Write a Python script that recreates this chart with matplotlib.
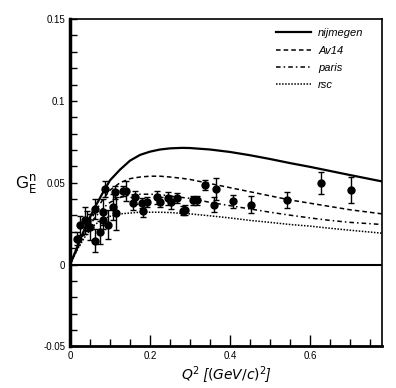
import matplotlib
matplotlib.use("Agg")
import matplotlib.pyplot as plt
from matplotlib.ticker import MultipleLocator

plt.rcParams['font.family'] = ['Liberation Sans', 'DejaVu Sans']

# data points
q2_data = [0.018, 0.025, 0.0375, 0.043, 0.05, 0.0625, 0.0625, 0.075, 0.083, 0.083,
           0.0875, 0.096, 0.107, 0.1125, 0.115, 0.133, 0.14, 0.157, 0.1625, 0.179,
           0.183, 0.192, 0.217, 0.225, 0.246, 0.252, 0.268, 0.282, 0.2875, 0.308,
           0.317, 0.3375, 0.36, 0.365, 0.407, 0.4525, 0.543, 0.627, 0.7025]
gen_data = [0.0157, 0.0239, 0.027, 0.0265, 0.0228, 0.034, 0.0147, 0.0198, 0.032, 0.027,
            0.0463, 0.0245, 0.035, 0.0443, 0.0314, 0.0449, 0.0449, 0.0376, 0.0412, 0.0376,
            0.033, 0.0382, 0.0412, 0.0382, 0.0406, 0.0382, 0.0406, 0.033, 0.0335, 0.0392,
            0.0392, 0.0484, 0.0367, 0.046, 0.0388, 0.0367, 0.0396, 0.050, 0.0457]
gen_err = [0.004, 0.006, 0.008, 0.006, 0.008, 0.006, 0.007, 0.007, 0.008, 0.005,
           0.005, 0.009, 0.008, 0.004, 0.010, 0.003, 0.006, 0.004, 0.004, 0.003,
           0.004, 0.003, 0.004, 0.003, 0.004, 0.004, 0.003, 0.003, 0.003, 0.003,
           0.003, 0.003, 0.0045, 0.0066, 0.004, 0.005, 0.005, 0.0066, 0.0078]

# model curves
q2_curve = [0.0, 0.02, 0.04, 0.06, 0.08, 0.10, 0.125, 0.15, 0.175, 0.20, 0.225, 0.25,
            0.28, 0.30, 0.35, 0.40, 0.45, 0.50, 0.55, 0.60, 0.65, 0.70, 0.78]
nijmegen = [0.0, 0.012, 0.024, 0.034, 0.043, 0.0515, 0.058, 0.0635, 0.067, 0.069, 0.0703, 0.071,
            0.0713, 0.0712, 0.0703, 0.0688, 0.0668, 0.0645, 0.062, 0.0597, 0.0572, 0.0547, 0.0508]
av14 = [0.0, 0.011, 0.022, 0.031, 0.039, 0.0455, 0.050, 0.0525, 0.0535, 0.054, 0.054, 0.0535,
        0.0527, 0.052, 0.0495, 0.047, 0.0445, 0.042, 0.0395, 0.0375, 0.0355, 0.0335, 0.031]
paris = [0.0, 0.0105, 0.020, 0.028, 0.034, 0.038, 0.041, 0.0425, 0.043, 0.043, 0.0427, 0.042,
         0.041, 0.0405, 0.038, 0.036, 0.034, 0.032, 0.0302, 0.0285, 0.027, 0.0258, 0.0245]
rsc = [0.0, 0.010, 0.018, 0.024, 0.0275, 0.0295, 0.031, 0.0315, 0.032, 0.032, 0.032, 0.0318,
       0.0313, 0.031, 0.0298, 0.0285, 0.027, 0.0258, 0.0245, 0.0235, 0.0222, 0.021, 0.0192]

fig = plt.figure(figsize=(3.96, 3.88), dpi=100)
ax = fig.add_axes([0.1768, 0.107, 0.788, 0.844])

ax.axhline(0, color='black', lw=1.5)
ax.plot(q2_curve, nijmegen, color='black', lw=1.6, ls='-', label='nijmegen')
ax.plot(q2_curve, av14, color='black', lw=1.1, ls=(0, (3, 2)), label='Av14')
ax.plot(q2_curve, paris, color='black', lw=1.1, ls=(0, (3, 2, 1, 2)), label='paris')
ax.plot(q2_curve, rsc, color='black', lw=1.1, ls=(0, (1, 1)), label='rsc')
ax.errorbar(q2_data, gen_data, yerr=gen_err, fmt='o', color='black', ms=5,
            elinewidth=1, capsize=2.5, capthick=1)

ax.set_xlim(0, 0.78)
ax.set_ylim(-0.05, 0.15)
ax.xaxis.set_major_locator(MultipleLocator(0.2))
ax.xaxis.set_minor_locator(MultipleLocator(0.05))
ax.yaxis.set_major_locator(MultipleLocator(0.05))
ax.yaxis.set_minor_locator(MultipleLocator(0.01))
ax.set_xticks([0, 0.2, 0.4, 0.6])
ax.set_xticklabels(['0', '0.2', '0.4', '0.6'])
ax.set_yticks([-0.05, 0, 0.05, 0.1, 0.15])
ax.set_yticklabels(['-0.05', '0', '0.05', '0.1', '0.15'])
ax.tick_params(which='both', direction='in', top=False, right=False, labelsize=7)
ax.tick_params(which='major', length=8, width=1)
ax.tick_params(which='minor', length=5, width=1)
ax.tick_params(axis='y', which='major', length=5)

ax.spines['left'].set_linewidth(2.5)
ax.spines['bottom'].set_linewidth(2)
ax.spines['top'].set_linewidth(1.2)
ax.spines['right'].set_linewidth(1.2)

ax.set_xlabel(r'$Q^2$ [$(GeV/c)^2$]', fontsize=10, fontstyle='italic', labelpad=2)
fig.text(0.065, 0.528, r'G$_\mathrm{E}^\mathrm{n}$', fontsize=12, ha='center', va='center')

leg = ax.legend(loc='upper right', bbox_to_anchor=(0.955, 0.985), frameon=False,
                handlelength=3.2, labelspacing=0.66, borderaxespad=0, handletextpad=0.6,
                prop={'style': 'italic', 'size': 8})

fig.savefig('out.png', dpi=100)
